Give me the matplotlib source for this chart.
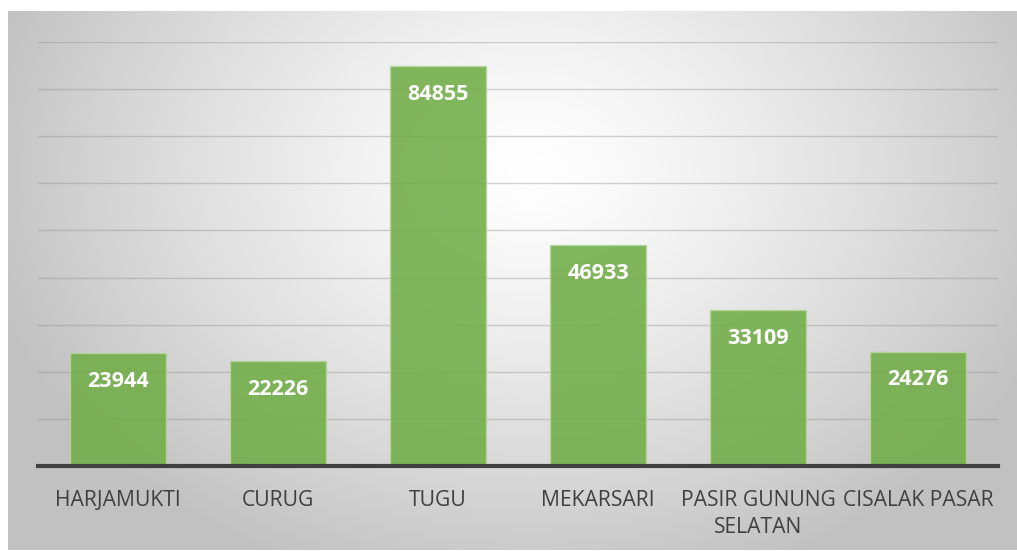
import numpy as np
import matplotlib.pyplot as plt

# data
kelurahan = ['HARJAMUKTI', 'CURUG', 'TUGU', 'MEKARSARI',
             'PASIR GUNUNG\nSELATAN', 'CISALAK PASAR']
jumlah = [23944, 22226, 84855, 46933, 33109, 24276]
grid_ticks = list(range(0, 90001, 10000))

W, H = 1017, 551
fig = plt.figure(figsize=(W / 100, H / 100), dpi=100)
fig.patch.set_facecolor('white')

# radial gradient background of the chart area
bg = fig.add_axes([8 / W, 1 - 550 / H, (W - 8) / W, (550 - 11) / H])
xx, yy = np.meshgrid(np.arange(8, W), np.arange(11, 550))
d = np.sqrt(((xx - 530) / 560.0) ** 2 + ((yy - 170) / 430.0) ** 2)
shade = 1.0 - 0.24 * np.clip(d, 0, 1) ** 1.3
bg.imshow(np.dstack([shade] * 3), aspect='auto', extent=(0, 1, 0, 1))
bg.axis('off')

# plot area
left, right, top, bottom = 38, 998, 42, 466
ax = fig.add_axes([left / W, 1 - bottom / H, (right - left) / W, (bottom - top) / H])
ax.patch.set_alpha(0)

x = np.arange(len(kelurahan))
bars = ax.bar(x, jumlah, width=0.6, color='#70ad47', alpha=0.88,
              edgecolor='#b5d89c', linewidth=1, zorder=3)

for b, v in zip(bars, jumlah):
    ax.text(b.get_x() + b.get_width() / 2, v - 6000, str(v),
            ha='center', va='center', color='white', fontsize=15.5,
            fontweight='bold', family='Open Sans', zorder=4)

ax.set_xlim(-0.5, len(kelurahan) - 0.5)
ax.set_ylim(0, 90000)
ax.set_yticks(grid_ticks)
ax.set_yticklabels([])
ax.tick_params(axis='y', length=0)
ax.grid(axis='y', color='#8c8c8c', alpha=0.38, linewidth=1, zorder=1)

ax.set_xticks(x)
ax.set_xticklabels(kelurahan, fontsize=15.2, color='#404040', family='Open Sans',
                   linespacing=1.4)
ax.tick_params(axis='x', length=0, pad=17)

for s in ['top', 'left', 'right']:
    ax.spines[s].set_visible(False)
ax.spines['bottom'].set_color('#404040')
ax.spines['bottom'].set_linewidth(3)
ax.spines['bottom'].set_zorder(5)

fig.savefig('out.png', dpi=100)
